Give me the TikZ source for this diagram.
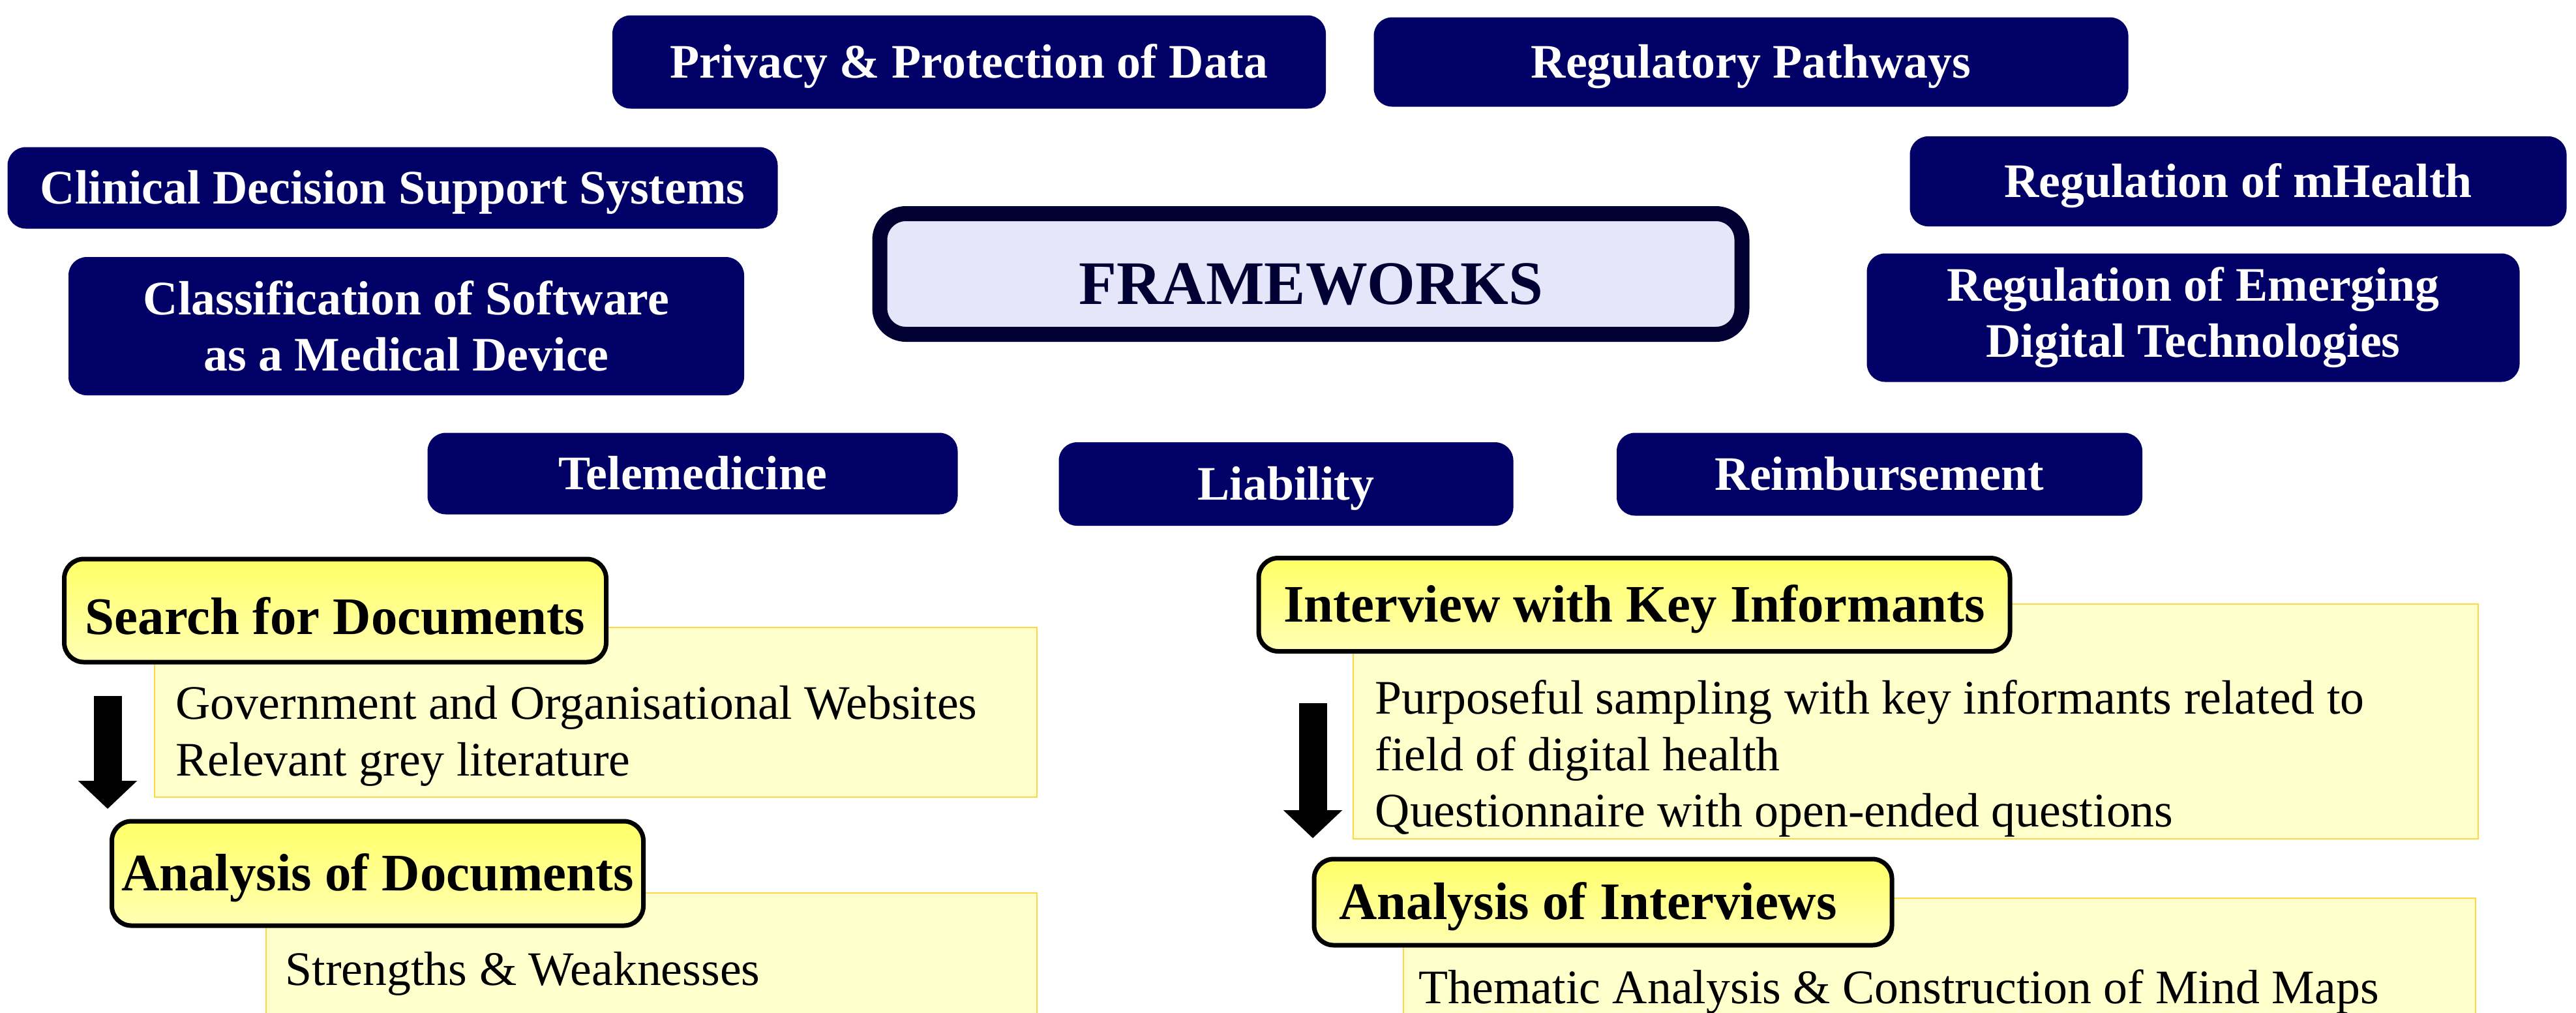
\documentclass[tikz,border=0pt]{standalone}
\usepackage{fontspec}
\setmainfont{Liberation Serif}
\usetikzlibrary{positioning,arrows.meta}

\definecolor{navybox}{RGB}{0,0,102}
\definecolor{navyline}{RGB}{0,0,51}
\definecolor{lavenderfill}{RGB}{230,230,250}
\definecolor{noteyellow}{RGB}{255,255,204}
\definecolor{noteline}{RGB}{255,215,64}
\definecolor{headtop}{RGB}{255,255,102}
\definecolor{headbottom}{RGB}{255,255,180}

\begin{document}
\begin{tikzpicture}[
    topic/.style={rectangle, rounded corners=0.28cm, fill=navybox, text=white,
      inner sep=0pt, align=center, font=\fontsize{21}{24.5}\selectfont\bfseries},
    oneline/.style={text height=0.60cm, text depth=0.11cm},
    stephead/.style={rectangle, rounded corners=0.3cm, draw=black, line width=0.07cm,
      top color=headtop, bottom color=headbottom, inner sep=0pt,
      text height=0.62cm, text depth=0.085cm,
      font=\fontsize{23}{27}\selectfont\bfseries},
    note/.style={rectangle, draw=noteline, line width=0.02cm, fill=noteyellow,
      anchor=north west, inner sep=0pt},
    notetext/.style={align=left, inner sep=0pt, font=\fontsize{21}{24.6}\selectfont},
    bigarrow/.style={line width=0.43cm, -{Triangle[width=0.88cm, length=0.43cm]}}
  ]
  \useasboundingbox (0,0) rectangle (39.5,-15.52);

  % centre box
  \node[rectangle, rounded corners=0.4cm, draw=navyline, line width=0.23cm, fill=lavenderfill,
    text=navyline, minimum width=13.22cm, minimum height=1.85cm,
    text height=1.0cm, text depth=0.08cm,
    font=\fontsize{27}{30}\selectfont\bfseries] (frameworks) at (20.10,-4.20) {FRAMEWORKS};

  % topics around it
  \node[topic, oneline, minimum width=10.94cm, minimum height=1.43cm] (privacy) at (14.86,-0.95) {Privacy \& Protection of Data};
  \node[topic, oneline, minimum width=11.57cm, minimum height=1.37cm] (pathways) at (26.85,-0.95) {Regulatory Pathways};
  \node[topic, oneline, minimum width=11.81cm, minimum height=1.25cm] (cdss) at (6.02,-2.88) {Clinical Decision Support Systems};
  \node[topic, oneline, minimum width=10.07cm, minimum height=1.38cm] (mhealth) at (34.32,-2.78) {Regulation of mHealth};
  \node[topic, minimum width=10.36cm, minimum height=2.12cm] (samd) at (6.23,-5.00) {Classification of Software\\as a Medical Device};
  \node[topic, minimum width=10.01cm, minimum height=1.97cm] (emerging) at (33.63,-4.87) {Regulation of Emerging\\Digital Technologies};
  \node[topic, oneline, minimum width=8.13cm, minimum height=1.25cm] (telemed) at (10.62,-7.26) {Telemedicine};
  \node[topic, oneline, minimum width=6.97cm, minimum height=1.28cm] (liability) at (19.72,-7.42) {Liability};
  \node[topic, oneline, minimum width=8.06cm, minimum height=1.27cm] (reimburse) at (28.82,-7.27) {Reimbursement};

  % document strand
  \node[note, minimum width=13.53cm, minimum height=2.60cm] (govbox) at (2.36,-9.61) {};
  \node[notetext, below right=0.90cm and 0.33cm of govbox.north west] (govtext)
    {Government and Organisational Websites\\Relevant grey literature};
  \node[stephead, text height=0.80cm, text depth=0.075cm, minimum width=8.31cm, minimum height=1.58cm]
    (searchdoc) at (5.14,-9.36) {Search for Documents};
  \node[note, minimum width=11.82cm, minimum height=2.00cm] (strengthbox) at (4.07,-13.68) {};
  \node[notetext, below right=0.91cm and 0.30cm of strengthbox.north west] (strengthtext)
    {Strengths \& Weaknesses};
  \node[stephead, minimum width=8.15cm, minimum height=1.60cm] (anadoc) at (5.79,-13.39) {Analysis of Documents};
  \coordinate (docfrom) at (1.65,-10.67);
  \coordinate (docto) at (1.65,-12.40);
  \draw[bigarrow] (docfrom) -- (docto);

  % interview strand
  \node[note, minimum width=17.25cm, minimum height=3.60cm] (purposebox) at (20.74,-9.25) {};
  \node[notetext, below right=1.17cm and 0.34cm of purposebox.north west] (purposetext)
    {Purposeful sampling with key informants related to\\field of digital health\\Questionnaire with open-ended questions};
  \node[stephead, minimum width=11.52cm, minimum height=1.43cm] (interview) at (25.06,-9.27) {Interview with Key Informants};
  \node[note, minimum width=16.44cm, minimum height=2.00cm] (thematicbox) at (21.51,-13.76) {};
  \node[notetext, below right=1.10cm and 0.24cm of thematicbox.north west] (thematictext)
    {Thematic Analysis \& Construction of Mind Maps};
  \node[stephead, minimum width=8.86cm, minimum height=1.32cm] (anaint) at (24.58,-13.83)
    {Analysis of Interviews\rule{0.46cm}{0pt}};
  \coordinate (intfrom) at (20.13,-10.78);
  \coordinate (intto) at (20.13,-12.85);
  \draw[bigarrow] (intfrom) -- (intto);
\end{tikzpicture}
\end{document}
